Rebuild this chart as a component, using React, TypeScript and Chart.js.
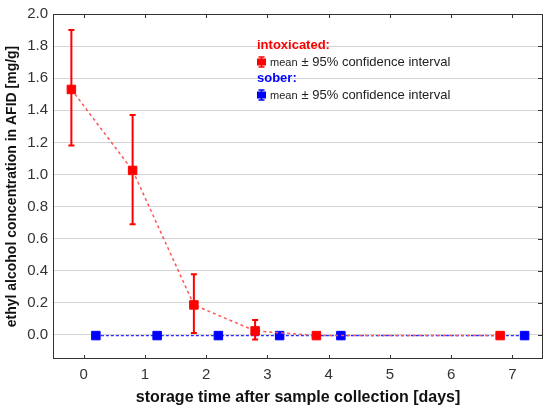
import React, { useEffect, useRef } from "react";
import { Chart, registerables } from "chart.js";

Chart.register(...registerables);

// tick labels
const xTicks = [0, 1, 2, 3, 4, 5, 6, 7];
const yTicks = [0, 0.2, 0.4, 0.6, 0.8, 1.0, 1.2, 1.4, 1.6, 1.8, 2.0];

// intoxicated: mean and 95% CI
const intoxDays = [-0.2, 0.8, 1.8, 2.8, 3.8, 6.8];
const intoxMean = [1.53, 1.025, 0.187, 0.025, -0.004, -0.004];
const intoxLow: (number | null)[] = [1.18, 0.69, 0.012, -0.029, null, null];
const intoxHigh: (number | null)[] = [1.9, 1.37, 0.378, 0.093, null, null];

// sober: mean
const soberDays = [0.2, 1.2, 2.2, 3.2, 4.2, 7.2];
const soberMean = [-0.004, -0.004, -0.004, -0.004, -0.004, -0.004];

const FONT = "'Liberation Sans', Arial, sans-serif";
const RED = "#ff0000";
const BLUE = "#0000ff";

const errorBars = {
    id: "errorBars",
    beforeDatasetsDraw(chart: any) {
        const { ctx, scales } = chart;
        const x = scales.x;
        const y = scales.y;
        ctx.save();
        ctx.strokeStyle = RED;
        ctx.lineWidth = 2;
        intoxDays.forEach((d, i) => {
            const lo = intoxLow[i];
            const hi = intoxHigh[i];
            if (lo == null || hi == null) return;
            const px = x.getPixelForValue(d);
            const top = y.getPixelForValue(hi);
            const bot = y.getPixelForValue(lo);
            ctx.beginPath();
            ctx.moveTo(px, top);
            ctx.lineTo(px, bot);
            ctx.moveTo(px - 3, top);
            ctx.lineTo(px + 3, top);
            ctx.moveTo(px - 3, bot);
            ctx.lineTo(px + 3, bot);
            ctx.stroke();
        });
        ctx.restore();
    },
};

// frame round the plot with inward ticks on top, bottom and right
const frame = {
    id: "frame",
    afterDraw(chart: any) {
        const { ctx, chartArea, scales } = chart;
        const { left, right, top, bottom } = chartArea;
        ctx.save();
        ctx.strokeStyle = "#333333";
        ctx.lineWidth = 1;
        ctx.strokeRect(left + 0.5, top + 0.5, right - left - 1, bottom - top - 1);
        ctx.beginPath();
        xTicks.forEach((v) => {
            const px = Math.round(scales.x.getPixelForValue(v)) + 0.5;
            ctx.moveTo(px, top);
            ctx.lineTo(px, top + 4);
            ctx.moveTo(px, bottom);
            ctx.lineTo(px, bottom - 4);
        });
        yTicks.forEach((v) => {
            const py = Math.round(scales.y.getPixelForValue(v)) + 0.5;
            ctx.moveTo(right, py);
            ctx.lineTo(right - 5, py);
        });
        ctx.stroke();
        ctx.restore();
    },
};

const drawLegendRow = (ctx: CanvasRenderingContext2D, x: number, y: number, color: string) => {
    // error bar symbol
    ctx.strokeStyle = color;
    ctx.fillStyle = color;
    ctx.lineWidth = 1.5;
    ctx.beginPath();
    ctx.moveTo(x + 4.5, y - 5);
    ctx.lineTo(x + 4.5, y + 5);
    ctx.moveTo(x + 1.5, y - 5);
    ctx.lineTo(x + 7.5, y - 5);
    ctx.moveTo(x + 1.5, y + 5);
    ctx.lineTo(x + 7.5, y + 5);
    ctx.stroke();
    ctx.fillRect(x, y - 3.5, 9, 7);
    ctx.fillStyle = "#222222";
    ctx.textBaseline = "middle";
    ctx.textAlign = "left";
    ctx.font = `11px ${FONT}`;
    ctx.fillText("mean", x + 13, y + 1);
    const w = ctx.measureText("mean").width;
    ctx.font = `13px ${FONT}`;
    ctx.fillText("± 95% confidence interval", x + 17 + w, y);
};

const legendBox = {
    id: "legendBox",
    afterDraw(chart: any) {
        const ctx: CanvasRenderingContext2D = chart.ctx;
        const x = 257;
        ctx.save();
        ctx.textBaseline = "middle";
        ctx.textAlign = "left";
        ctx.font = `bold 13px ${FONT}`;
        ctx.fillStyle = RED;
        ctx.fillText("intoxicated:", x, 45);
        drawLegendRow(ctx, x, 62, RED);
        ctx.font = `bold 13px ${FONT}`;
        ctx.fillStyle = BLUE;
        ctx.fillText("sober:", x, 78);
        drawLegendRow(ctx, x, 95, BLUE);
        ctx.restore();
    },
};

const AlcoholChart: React.FC = () => {
    const chartRef = useRef<HTMLCanvasElement | null>(null);
    const chartInstance = useRef<Chart | null>(null);

    useEffect(() => {
        if (!chartRef.current) return;
        if (chartInstance.current) chartInstance.current.destroy();

        chartInstance.current = new Chart(chartRef.current, {
            type: "scatter",
            data: {
                datasets: [
                    {
                        label: "intoxicated",
                        data: intoxDays.map((d, i) => ({ x: d, y: intoxMean[i] })),
                        showLine: true,
                        borderColor: "#ff5555",
                        borderWidth: 1.5,
                        borderDash: [3, 3],
                        pointStyle: "rect",
                        pointRadius: 6,
                        pointBackgroundColor: RED,
                        pointBorderColor: RED,
                        pointBorderWidth: 1,
                    },
                    {
                        label: "sober",
                        data: soberDays.map((d, i) => ({ x: d, y: soberMean[i] })),
                        showLine: true,
                        borderColor: "#2a2aff",
                        borderWidth: 1.3,
                        borderDash: [3, 2],
                        pointStyle: "rect",
                        pointRadius: 6,
                        pointBackgroundColor: BLUE,
                        pointBorderColor: BLUE,
                        pointBorderWidth: 1,
                    },
                ],
            },
            options: {
                responsive: false,
                animation: false,
                devicePixelRatio: 1,
                layout: { padding: { top: 13, right: 7, left: 0, bottom: 0 } },
                plugins: {
                    legend: { display: false },
                    tooltip: { enabled: false },
                },
                scales: {
                    x: {
                        type: "linear",
                        min: -0.5,
                        max: 7.5,
                        afterBuildTicks: (scale: any) => {
                            scale.ticks = xTicks.map((v) => ({ value: v }));
                        },
                        afterFit: (scale: any) => {
                            scale.height = 54;
                        },
                        grid: { display: false, drawTicks: false },
                        border: { display: false },
                        ticks: {
                            padding: 7,
                            color: "#333333",
                            font: { family: FONT, size: 15 },
                            callback: (v: any) => String(v),
                        },
                        title: {
                            display: true,
                            text: "storage time after sample collection [days]",
                            color: "#111111",
                            font: { family: FONT, size: 16, weight: "bold" },
                            padding: { top: 0, bottom: 6 },
                        },
                    },
                    y: {
                        type: "linear",
                        min: -0.15,
                        max: 2.0,
                        afterBuildTicks: (scale: any) => {
                            scale.ticks = yTicks.map((v) => ({ value: v }));
                        },
                        afterFit: (scale: any) => {
                            scale.width = 53;
                        },
                        grid: { color: "#d4d4d4", lineWidth: 1, drawTicks: false },
                        border: { display: false },
                        ticks: {
                            padding: 5,
                            color: "#333333",
                            font: { family: FONT, size: 15 },
                            callback: (v: any) => Number(v).toFixed(1),
                        },
                        title: {
                            display: true,
                            text: "ethyl alcohol concentration in AFID [mg/g]",
                            color: "#111111",
                            font: { family: FONT, size: 14, weight: "bold" },
                            padding: { top: 4, bottom: 0 },
                        },
                    },
                },
            },
            plugins: [errorBars, frame, legendBox],
        });

        return () => {
            if (chartInstance.current) {
                chartInstance.current.destroy();
                chartInstance.current = null;
            }
        };
    }, []);

    return (
        <div style={{ position: "fixed", left: 0, top: 0, width: 550, height: 413, background: "#ffffff" }}>
            <canvas ref={chartRef} width={550} height={413} />
        </div>
    );
};

export default function App() {
    return <AlcoholChart />;
}
